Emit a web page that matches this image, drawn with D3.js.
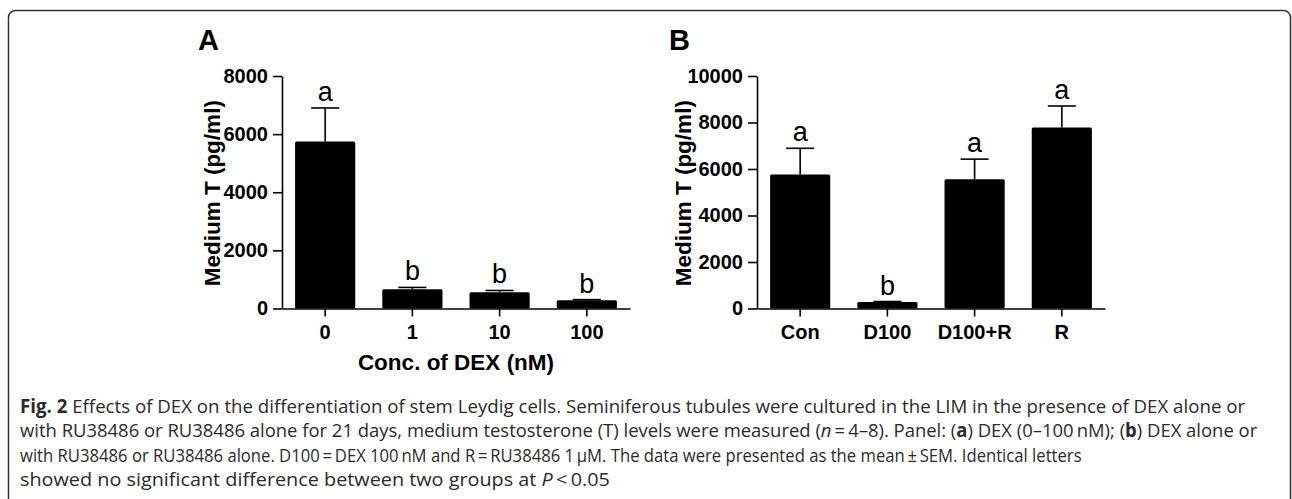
<!DOCTYPE html>
<html>
<head>
<meta charset="utf-8">
<script src="https://cdn.jsdelivr.net/npm/d3@7"></script>
<style>
  body { margin: 0; background: #fff; }
  svg { display: block; }
  .axis text { font-family: "Liberation Sans", Arial, sans-serif; font-weight: bold; font-size: 20px; fill: #000; }
  .axis path, .axis line { stroke: #000; stroke-width: 1.6px; }
</style>
</head>
<body>
<main></main>
<script>
const w = 1292;
const h = 499;

// panel A
const catsA = ["0", "1", "10", "100"];
const meanA = [5750, 660, 560, 285];
const semA = [1150, 65, 60, 20];
const lettersA = ["a", "b", "b", "b"];
const ticksA = [0, 2000, 4000, 6000, 8000];

// panel B
const catsB = ["Con", "D100", "D100+R", "R"];
const meanB = [5760, 280, 5560, 7790];
const semB = [1130, 20, 865, 920];
const lettersB = ["a", "b", "a", "a"];
const ticksB = [0, 2000, 4000, 6000, 8000, 10000];

const ts = "\u2009";
const captionLines = [
    [["b", "Fig. 2"], ["", " Effects of DEX on the differentiation of stem Leydig cells. Seminiferous tubules were cultured in the LIM in the presence of DEX alone or"]],
    [["", "with RU38486 or RU38486 alone for 21 days, medium testosterone (T) levels were measured ("], ["i", "n"], ["", ts + "=" + ts + "4–8). Panel: ("], ["b", "a"], ["", ") DEX (0–100" + ts + "nM); ("], ["b", "b"], ["", ") DEX alone or"]],
    [["", "with RU38486 or RU38486 alone. D100" + ts + "=" + ts + "DEX 100" + ts + "nM and R" + ts + "=" + ts + "RU38486 1" + ts + "μM. The data were presented as the mean" + ts + "±" + ts + "SEM. Identical letters"]],
    [["", "showed no significant difference between two groups at "], ["i", "P"], ["", ts + "<" + ts + "0.05"]]
];
const captionWidths = [1226, 1238, 1062, 590];

const svg = d3.select("main")
    .append("svg")
    .attr("width", w)
    .attr("height", h);

// figure frame
svg.append("rect")
    .attr("x", 8.5)
    .attr("y", 10.5)
    .attr("width", 1282)
    .attr("height", 540)
    .attr("rx", 7)
    .attr("fill", "none")
    .attr("stroke", "#333")
    .attr("stroke-width", 1.5);

const plotTop = 76, plotBottom = 308.5;

function drawPanel(cats, means, sems, letters, ticks, x0, x1, label, labelOff, xTitle) {
    const xScale = d3.scaleBand()
        .domain(cats)
        .range([x0, x1])
        .paddingInner(0.31)
        .paddingOuter(0.15);

    const yScale = d3.scaleLinear()
        .domain([0, d3.max(ticks)])
        .range([plotBottom, plotTop]);

    const g = svg.append("g");

    g.selectAll("rect.bar")
        .data(means)
        .enter()
        .append("rect")
        .attr("class", "bar")
        .attr("x", (d, i) => xScale(cats[i]))
        .attr("y", d => yScale(d))
        .attr("width", xScale.bandwidth())
        .attr("height", d => plotBottom - yScale(d))
        .attr("rx", 1.5)
        .attr("fill", "#000");

    const cx = i => xScale(cats[i]) + xScale.bandwidth() / 2;

    // upper error bars
    g.selectAll("line.err")
        .data(means)
        .enter()
        .append("line")
        .attr("x1", (d, i) => cx(i))
        .attr("x2", (d, i) => cx(i))
        .attr("y1", d => yScale(d))
        .attr("y2", (d, i) => yScale(d + sems[i]))
        .attr("stroke", "#000")
        .attr("stroke-width", 1.6);

    g.selectAll("line.cap")
        .data(means)
        .enter()
        .append("line")
        .attr("x1", (d, i) => cx(i) - 14)
        .attr("x2", (d, i) => cx(i) + 14)
        .attr("y1", (d, i) => yScale(d + sems[i]))
        .attr("y2", (d, i) => yScale(d + sems[i]))
        .attr("stroke", "#000")
        .attr("stroke-width", 1.6);

    g.selectAll("text.letter")
        .data(letters)
        .enter()
        .append("text")
        .attr("x", (d, i) => cx(i))
        .attr("y", (d, i) => yScale(means[i] + sems[i]) - 7)
        .attr("text-anchor", "middle")
        .style("font-family", "Liberation Sans, Arial, sans-serif")
        .style("font-size", "27px")
        .text(d => d);

    g.append("g")
        .attr("class", "axis")
        .attr("transform", "translate(0," + plotBottom + ")")
        .call(d3.axisBottom(xScale).tickSize(8).tickSizeOuter(0).tickPadding(8));

    g.append("g")
        .attr("class", "axis")
        .attr("transform", "translate(" + x0 + ",0)")
        .call(d3.axisLeft(yScale).tickValues(ticks).tickFormat(d3.format("d")).tickSize(9).tickSizeOuter(0).tickPadding(5));

    g.append("text")
        .attr("transform", "translate(" + (x0 - labelOff) + "," + ((plotTop + plotBottom) / 2 + 1) + ") rotate(-90)")
        .attr("text-anchor", "middle")
        .style("font-family", "Liberation Sans, Arial, sans-serif")
        .style("font-weight", "bold")
        .style("font-size", "22.5px")
        .text("Medium T (pg/ml)");

    g.append("text")
        .attr("x", x0 - labelOff - 22)
        .attr("y", 50)
        .style("font-family", "Liberation Sans, Arial, sans-serif")
        .style("font-weight", "bold")
        .style("font-size", "29px")
        .text(label);

    if (xTitle) {
        g.append("text")
            .attr("x", (x0 + x1) / 2)
            .attr("y", 370)
            .attr("text-anchor", "middle")
            .style("font-family", "Liberation Sans, Arial, sans-serif")
            .style("font-weight", "bold")
            .style("font-size", "22.5px")
            .text(xTitle);
    }
}

drawPanel(catsA, meanA, semA, lettersA, ticksA, 282, 630, "A", 62, "Conc. of DEX (nM)");
drawPanel(catsB, meanB, semB, lettersB, ticksB, 757, 1105, "B", 66, null);

// caption: each line condensed horizontally to its measured width
captionLines.forEach((parts, i) => {
    const lineG = svg.append("g");
    const t = lineG.append("text")
        .attr("x", 0)
        .attr("y", 413 + i * 24.5)
        .style("font-family", "Open Sans, sans-serif")
        .style("font-size", "19px")
        .style("fill", "#2a2a2a");
    parts.forEach(p => {
        t.append("tspan")
            .style("font-weight", p[0] === "b" ? "bold" : "normal")
            .style("font-style", p[0] === "i" ? "italic" : "normal")
            .text(p[1]);
    });
    const sx = captionWidths[i] / t.node().getComputedTextLength();
    lineG.attr("transform", "translate(20,0) scale(" + sx + ",1)");
});
</script>
</body>
</html>
